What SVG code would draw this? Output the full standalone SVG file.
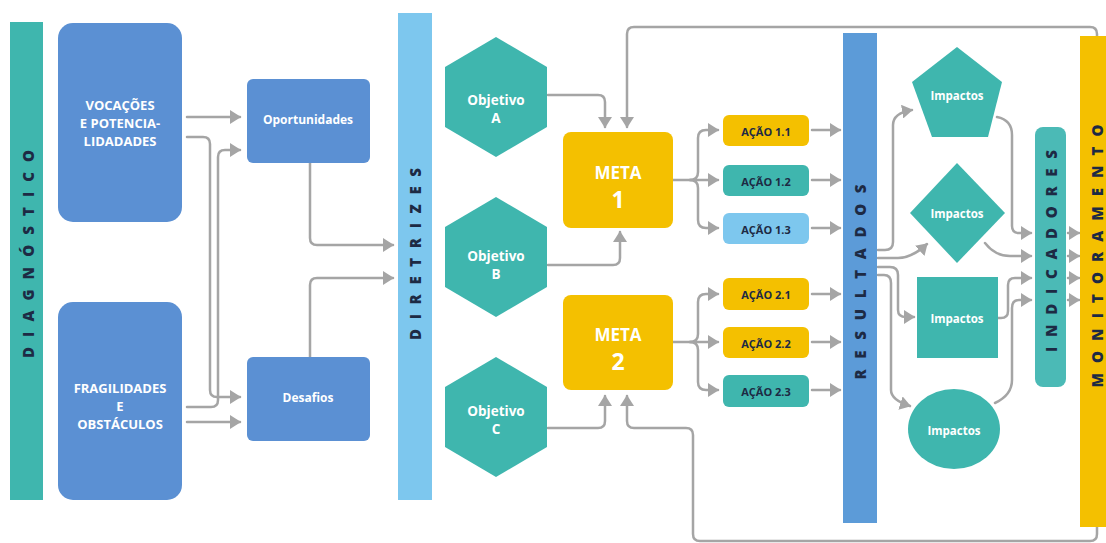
<svg xmlns="http://www.w3.org/2000/svg" width="1106" height="543" viewBox="0 0 1106 543">
<defs>
<style>
.bg{fill:#ffffff}
.teal{fill:#3fb6ae}
.blue{fill:#5b90d3}
.lblue{fill:#7dc7ee}
.yel{fill:#f4c000}
.res{fill:#5c9bd8}
.ind{fill:#4bbab6}
.conn path{fill:none;stroke:#a5a5a5;stroke-width:2.5;stroke-linecap:round;stroke-linejoin:round}
.conn path.a{marker-end:url(#arr)}
.wt{fill:#ffffff;font-family:"Open Sans","Noto Sans",sans-serif;font-weight:700;text-anchor:middle;dominant-baseline:central}
.dt{fill:#1d2a44;font-family:"Open Sans","Noto Sans",sans-serif;font-weight:700;text-anchor:middle;dominant-baseline:central}
.vt{fill:#1d2a44;font-family:"Open Sans","Noto Sans",sans-serif;font-weight:800;font-size:15px;text-anchor:middle;dominant-baseline:central}
</style>
<marker id="arr" markerUnits="userSpaceOnUse" markerWidth="12" markerHeight="14" refX="10" refY="7" orient="auto" viewBox="0 0 12 14">
<path d="M0,0 L11,7 L0,14 z" fill="#a5a5a5"/>
</marker>
</defs>
<rect class="bg" x="0" y="0" width="1106" height="543"/>

<g id="connectors" class="conn">
<path class="a" d="M187,117 H240"/>
<path class="a" d="M187,137 H203 Q210,137 210,144 V390 Q210,397 217,397 H240"/>
<path class="a" d="M187,407 H211 Q218,407 218,400 V157 Q218,150 225,150 H240"/>
<path class="a" d="M187,422 H240"/>
<path class="a" d="M310,163 V238 Q310,245 317,245 H393"/>
<path class="a" d="M310,357 V285 Q310,278 317,278 H393"/>
<path class="a" d="M548,95 H598 Q605,95 605,102 V127"/>
<path class="a" d="M1097,36 V34 Q1097,27 1090,27 H634 Q627,27 627,34 V127"/>
<path class="a" d="M548,265 H613 Q620,265 620,258 V232"/>
<path class="a" d="M548,428 H598 Q605,428 605,421 V396"/>
<path class="a" d="M1097,527 V534 Q1097,541 1090,541 H700 Q693,541 693,534 V435 Q693,428 686,428 H634 Q627,428 627,421 V396"/>
<path class="a" d="M673,180 H718"/>
<path class="a" d="M690,180 Q698,180 698,172 V138 Q698,130 706,130 H718"/>
<path class="a" d="M690,180 Q698,180 698,188 V220 Q698,228 706,228 H718"/>
<path class="a" d="M673,342 H718"/>
<path class="a" d="M690,342 Q698,342 698,334 V302 Q698,294 706,294 H718"/>
<path class="a" d="M690,342 Q698,342 698,350 V382 Q698,390 706,390 H718"/>
<path class="a" d="M812,130 H840"/>
<path class="a" d="M812,180 H840"/>
<path class="a" d="M812,228 H840"/>
<path class="a" d="M812,294 H840"/>
<path class="a" d="M812,342 H840"/>
<path class="a" d="M812,390 H840"/>
<path class="a" d="M878,250 H885 Q893,250 893,242 V125 Q893,113 912,110"/>
<path class="a" d="M878,258 H898 Q912,258 927,244"/>
<path class="a" d="M878,267 H890 Q898,267 898,275 V310 Q898,317 906,317 H914"/>
<path class="a" d="M878,275 H884 Q891,275 891,283 V390 Q891,400 910,406"/>
<path class="a" d="M997,117 Q1012,120 1012,135 V226 Q1012,233 1019,233 H1031"/>
<path class="a" d="M985,243 Q995,256 1010,256 H1031"/>
<path class="a" d="M998,318 H1001 Q1008,318 1008,311 V285 Q1008,278 1015,278 H1031"/>
<path class="a" d="M995,403 Q1012,395 1012,380 V308 Q1012,300 1019,300 H1031"/>
<path class="a" d="M1068,233 H1079"/>
<path class="a" d="M1068,256 H1079"/>
<path class="a" d="M1068,278 H1079"/>
<path class="a" d="M1068,300 H1079"/>
</g>

<g id="diagnostico">
<rect class="teal" x="10" y="22" width="33" height="478"/>
<text class="vt" x="28" y="254" transform="rotate(-90 28 254)" textLength="208" lengthAdjust="spacing">DIAGNÓSTICO</text>
</g>
<g id="vocacoes">
<rect class="blue" x="58" y="23" width="124" height="199" rx="15"/>
<text class="wt" font-size="13" x="120" y="105">VOCAÇÕES</text>
<text class="wt" font-size="13" x="120" y="123">E POTENCIA-</text>
<text class="wt" font-size="13" x="120" y="141">LIDADADES</text>
</g>
<g id="fragilidades">
<rect class="blue" x="58" y="302" width="124" height="198" rx="15"/>
<text class="wt" font-size="13" x="120" y="388">FRAGILIDADES</text>
<text class="wt" font-size="13" x="120" y="406">E</text>
<text class="wt" font-size="13" x="120" y="424">OBSTÁCULOS</text>
</g>
<g id="oportunidades">
<rect class="blue" x="247" y="79" width="123" height="84" rx="6"/>
<text class="wt" font-size="12" x="308" y="119">Oportunidades</text>
</g>
<g id="desafios">
<rect class="blue" x="247" y="357" width="123" height="84" rx="6"/>
<text class="wt" font-size="12" x="308" y="397">Desafios</text>
</g>
<g id="diretrizes">
<rect class="lblue" x="398" y="13" width="34" height="487"/>
<text class="vt" x="415" y="254" transform="rotate(-90 415 254)" textLength="172" lengthAdjust="spacing">DIRETRIZES</text>
</g>
<g id="objetivo-a">
<polygon class="teal" points="496,37 547,67 547,127 496,157 445,127 445,67"/>
<text class="wt" font-size="13.5" x="496" y="100">Objetivo</text>
<text class="wt" font-size="13.5" x="496" y="118">A</text>
</g>
<g id="objetivo-b">
<polygon class="teal" points="496,197 547,227 547,287 496,317 445,287 445,227"/>
<text class="wt" font-size="13.5" x="496" y="256">Objetivo</text>
<text class="wt" font-size="13.5" x="496" y="274">B</text>
</g>
<g id="objetivo-c">
<polygon class="teal" points="496,357 547,387 547,447 496,477 445,447 445,387"/>
<text class="wt" font-size="13.5" x="496" y="411">Objetivo</text>
<text class="wt" font-size="13.5" x="496" y="429">C</text>
</g>
<g id="meta-1">
<rect class="yel" x="563" y="132" width="110" height="96" rx="8"/>
<text class="wt" font-size="17" x="618" y="172">META</text>
<text class="wt" font-size="23" x="618" y="199">1</text>
</g>
<g id="meta-2">
<rect class="yel" x="563" y="295" width="110" height="95" rx="8"/>
<text class="wt" font-size="17" x="618" y="334">META</text>
<text class="wt" font-size="23" x="618" y="361">2</text>
</g>
<g id="acao-1-1">
<rect class="yel" x="723" y="115" width="86" height="31" rx="6"/>
<text class="dt" font-size="11" x="766" y="131">AÇÃO 1.1</text>
</g>
<g id="acao-1-2">
<rect class="teal" x="723" y="165" width="86" height="31" rx="6"/>
<text class="dt" font-size="11" x="766" y="181">AÇÃO 1.2</text>
</g>
<g id="acao-1-3">
<rect class="lblue" x="723" y="213" width="86" height="31" rx="6"/>
<text class="dt" font-size="11" x="766" y="229">AÇÃO 1.3</text>
</g>
<g id="acao-2-1">
<rect class="yel" x="723" y="278" width="86" height="32" rx="6"/>
<text class="dt" font-size="11" x="766" y="294">AÇÃO 2.1</text>
</g>
<g id="acao-2-2">
<rect class="yel" x="723" y="327" width="86" height="31" rx="6"/>
<text class="dt" font-size="11" x="766" y="343">AÇÃO 2.2</text>
</g>
<g id="acao-2-3">
<rect class="teal" x="723" y="375" width="86" height="32" rx="6"/>
<text class="dt" font-size="11" x="766" y="391">AÇÃO 2.3</text>
</g>
<g id="resultados">
<rect class="res" x="843" y="33" width="34" height="490"/>
<text class="vt" x="860" y="282" transform="rotate(-90 860 282)" textLength="195" lengthAdjust="spacing">RESULTADOS</text>
</g>
<g id="impactos-1">
<polygon class="teal" points="957,47 1002,82 988,137 932,137 912,82"/>
<text class="wt" font-size="11.5" x="957" y="95">Impactos</text>
</g>
<g id="impactos-2">
<polygon class="teal" points="957,163 1005,213 957,263 910,213"/>
<text class="wt" font-size="11.5" x="957" y="213">Impactos</text>
</g>
<g id="impactos-3">
<rect class="teal" x="917" y="277" width="81" height="81"/>
<text class="wt" font-size="11.5" x="957" y="318">Impactos</text>
</g>
<g id="impactos-4">
<ellipse class="teal" cx="954" cy="429" rx="46" ry="40"/>
<text class="wt" font-size="11.5" x="954" y="430">Impactos</text>
</g>
<g id="indicadores">
<rect class="ind" x="1035" y="127" width="31" height="260" rx="8"/>
<text class="vt" x="1051" y="251" transform="rotate(-90 1051 251)" textLength="202" lengthAdjust="spacing">INDICADORES</text>
</g>
<g id="monitoramento">
<rect class="yel" x="1080" y="36" width="30" height="491"/>
<text class="vt" x="1097" y="256" transform="rotate(-90 1097 256)" textLength="263" lengthAdjust="spacing">MONITORAMENTO</text>
</g>
</svg>
